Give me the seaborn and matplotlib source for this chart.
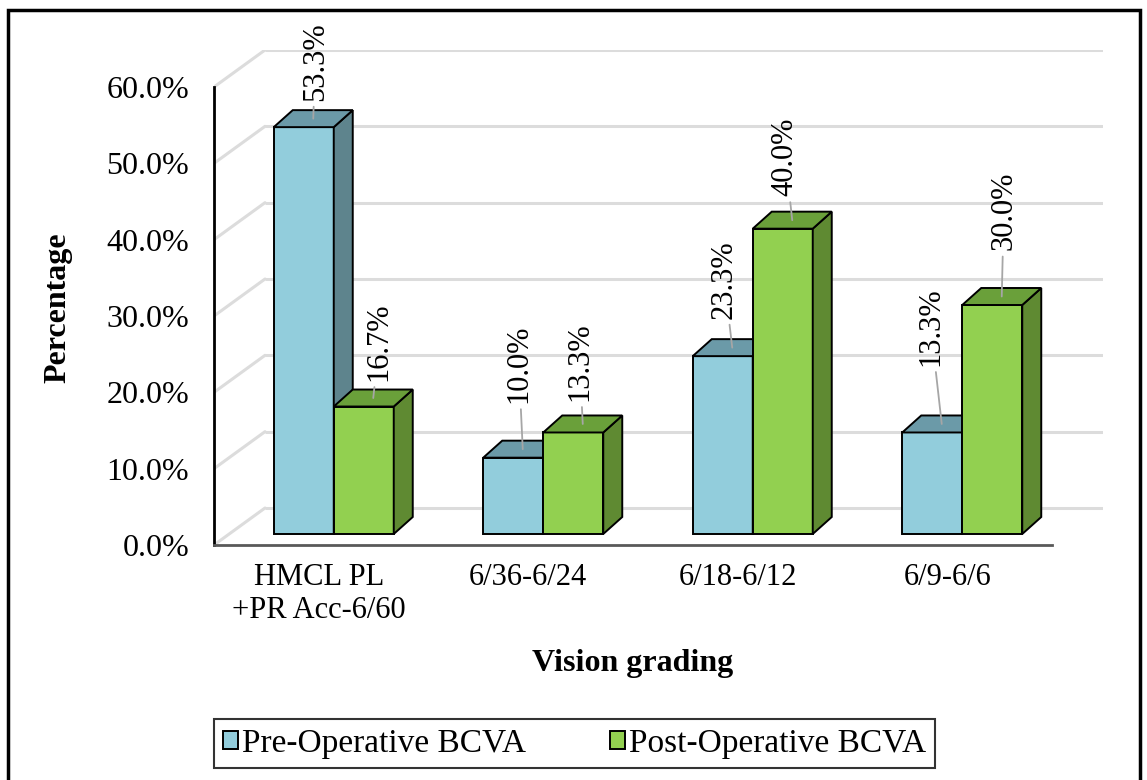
import numpy as np
import pandas as pd
import matplotlib
matplotlib.use("Agg")
import matplotlib.pyplot as plt
from matplotlib.patches import Polygon, Rectangle, Patch
from matplotlib.transforms import ScaledTranslation
import seaborn as sns

# ---- data -------------------------------------------------------------
categories = ["HMCL PL\n+PR Acc-6/60", "6/36-6/24", "6/18-6/12", "6/9-6/6"]
series = ["Pre-Operative BCVA", "Post-Operative BCVA"]
pre_values = [53.3, 10.0, 23.3, 13.3]
post_values = [16.7, 13.3, 40.0, 30.0]
y_ticks = [0, 10, 20, 30, 40, 50, 60]

df = pd.DataFrame({
    "grade": categories * 2,
    "series": [series[0]] * len(categories) + [series[1]] * len(categories),
    "value": pre_values + post_values,
})

# ---- style ------------------------------------------------------------
sns.set_theme(style="white")
plt.rcParams["font.family"] = ["Liberation Serif", "DejaVu Serif"]
plt.rcParams["text.color"] = "black"
plt.rcParams["axes.labelcolor"] = "black"
plt.rcParams["xtick.color"] = "black"
plt.rcParams["ytick.color"] = "black"

front_colors = ["#92CDDC", "#92D050"]
top_colors = ["#6B9AA8", "#6AA03A"]
side_colors = ["#5E848D", "#5F8A32"]
grid_color = "#DCDCDC"

W, H, DPI = 1147, 780, 100
fig = plt.figure(figsize=(W / DPI, H / DPI), dpi=DPI)

# axes box in pixels: front plane + receding back wall
FRONT_L, FRONT_R = 214, 1052
BASE_Y, TOP_Y = 545, 87
WALL_DX, WALL_DY = 51, 37          # depth of the back wall (px)
BAR_DX, BAR_DY = 15, 11            # bars sit part-way into the depth
BAR_DEPTH_X, BAR_DEPTH_Y = 19, 17  # depth of each bar block
BAR_W_PX = 60                      # width of one bar's front face

ax = fig.add_axes([FRONT_L / W, 1 - BASE_Y / H,
                   (FRONT_R + WALL_DX - FRONT_L) / W,
                   (BASE_Y - TOP_Y + WALL_DY) / H])

ux = 4.0 / (FRONT_R - FRONT_L)     # category units per px
uy = 60.0 / (BASE_Y - TOP_Y)       # percent per px

# back wall gridlines and the receding lines on the side wall
for v in y_ticks:
    ax.plot([-0.5 + WALL_DX * ux, 3.5 + WALL_DX * ux],
            [v + WALL_DY * uy] * 2, color=grid_color, lw=2.2, zorder=0,
            solid_capstyle="butt")
    ax.plot([-0.5, -0.5 + WALL_DX * ux], [v, v + WALL_DY * uy],
            color=grid_color, lw=2.2, zorder=0)

sns.barplot(data=df, x="grade", y="value", hue="series",
            order=categories, hue_order=series, palette=front_colors,
            saturation=1, width=2 * BAR_W_PX * ux,
            edgecolor="black", linewidth=1.4, errorbar=None,
            legend=False, ax=ax)

front_tr = ax.transData + ScaledTranslation(BAR_DX / DPI, BAR_DY / DPI,
                                            fig.dpi_scale_trans)
ddx, ddy = BAR_DEPTH_X * ux, BAR_DEPTH_Y * uy

# label offsets (px) from the centre of each bar's top face
label_offsets = [[(2, 18), (-4, 46), (-8, 29), (-11, 58)],
                 [(6, 17), (-3, 23), (-7, 24), (2, 46)]]

for s, cont in enumerate(ax.containers):
    for i, p in enumerate(cont.patches):
        z = 2 + s
        p.set_transform(front_tr)
        p.set_zorder(z)
        x0, w, h = p.get_x(), p.get_width(), p.get_height()
        top = Polygon([(x0, h), (x0 + w, h), (x0 + w + ddx, h + ddy),
                       (x0 + ddx, h + ddy)], closed=True,
                      facecolor=top_colors[s], edgecolor="black", lw=1.4,
                      transform=front_tr, zorder=z + 0.1)
        side = Polygon([(x0 + w, 0), (x0 + w, h), (x0 + w + ddx, h + ddy),
                        (x0 + w + ddx, ddy)], closed=True,
                       facecolor=side_colors[s], edgecolor="black", lw=1.4,
                       transform=front_tr, zorder=z + 0.1)
        ax.add_patch(side)
        ax.add_patch(top)
        ox, oy = label_offsets[s][i]
        ax.annotate(f"{h:.1f}%",
                    xy=(x0 + w / 2 + ddx / 2, h + ddy / 2), xycoords=front_tr,
                    xytext=(ox * 0.72, oy * 0.72), textcoords="offset points",
                    rotation=90, ha="center", va="bottom", fontsize=22,
                    color="black", zorder=10,
                    arrowprops=dict(arrowstyle="-", color="#A6A6A6", lw=1.3,
                                    shrinkA=2, shrinkB=0))

ax.set_xlim(-0.5, 3.5 + WALL_DX * ux)
ax.set_ylim(0, 60 + WALL_DY * uy)

for side_name in ["top", "right"]:
    ax.spines[side_name].set_visible(False)
ax.spines["left"].set_bounds(0, 60)
ax.spines["left"].set_color("black")
ax.spines["left"].set_linewidth(2)
ax.spines["bottom"].set_bounds(-0.5, 3.5)
ax.spines["bottom"].set_color("#595959")
ax.spines["bottom"].set_linewidth(2)

ax.set_yticks(y_ticks)
ax.set_yticklabels([f"{v:.1f}%" for v in y_ticks], fontsize=23)
ax.set_xticks(range(len(categories)))
ax.set_xticklabels(categories, fontsize=22)
ax.tick_params(axis="y", length=0, pad=18)
ax.tick_params(axis="x", length=0, pad=13)
ax.grid(False)

ax.set_ylabel("Percentage", fontsize=23, fontweight="bold")
ax.yaxis.label.set_rotation_mode("default")
ax.yaxis.label.set_va("center")
ax.yaxis.set_label_coords((58 - FRONT_L) / (FRONT_R + WALL_DX - FRONT_L),
                          (BASE_Y - 308) / (BASE_Y - TOP_Y + WALL_DY))
ax.set_xlabel("Vision grading", fontsize=23, fontweight="bold")
ax.xaxis.label.set_va("center")
ax.xaxis.set_label_coords((633 - FRONT_L) / (FRONT_R + WALL_DX - FRONT_L),
                          (BASE_Y - 664) / (BASE_Y - TOP_Y + WALL_DY))

handles = [Patch(facecolor=c, edgecolor="black", lw=1.4) for c in front_colors]
leg = fig.legend(handles, series, loc="center",
                 bbox_to_anchor=(574.5 / W, 1 - 743.5 / H), ncol=2,
                 fontsize=24, frameon=True, fancybox=False,
                 edgecolor="black", handlelength=0.45, handleheight=0.45,
                 handletextpad=0.12, columnspacing=2.5, borderpad=0.28)
leg.get_frame().set_linewidth(1.5)

# outer chart border
fig.add_artist(Rectangle((8 / W, -0.05), (1140 - 8) / W, 1 - 10 / H + 0.05,
                         transform=fig.transFigure, fill=False,
                         edgecolor="black", lw=2.5))

fig.savefig("out.png", dpi=DPI, facecolor="white")
